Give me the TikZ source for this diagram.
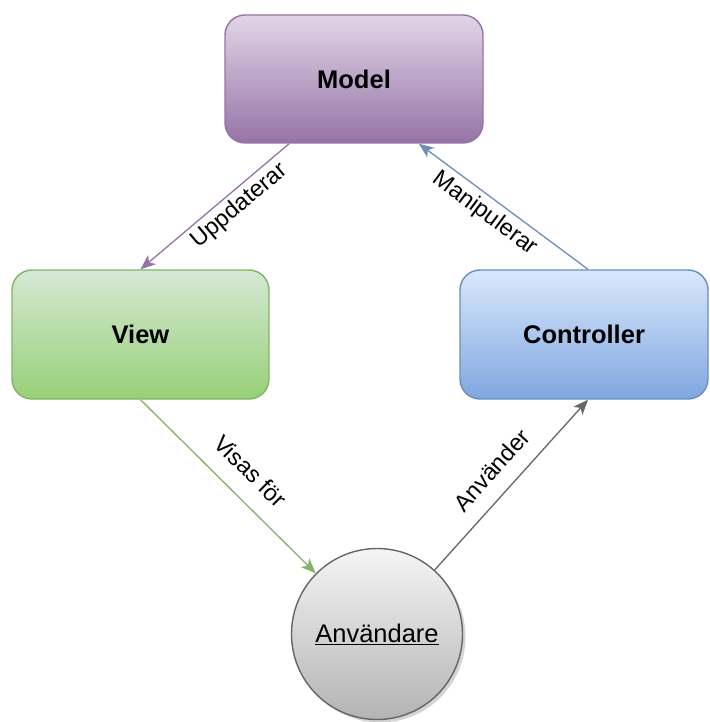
\documentclass[tikz,border=0pt]{standalone}
\usepackage{fontspec}
\setmainfont{Liberation Sans}
\usetikzlibrary{arrows.meta,shadows,calc}
\definecolor{mtop}{HTML}{E1D5E7}
\definecolor{mbot}{HTML}{9673A6}
\definecolor{mline}{HTML}{9673A6}
\definecolor{vtop}{HTML}{D5E8D4}
\definecolor{vbot}{HTML}{97D077}
\definecolor{vline}{HTML}{82B366}
\definecolor{ctop}{HTML}{DAE8FC}
\definecolor{cbot}{HTML}{7EA6E0}
\definecolor{cline}{HTML}{6C8EBF}
\definecolor{utop}{HTML}{F5F5F5}
\definecolor{ubot}{HTML}{B3B3B3}
\definecolor{uline}{HTML}{666666}
\begin{document}
\begin{tikzpicture}[x=1pt,y=-1pt,
  box/.style={draw, line width=1.4pt, rounded corners=20pt, inner sep=0pt,
    font=\fontsize{25.5}{30}\selectfont\bfseries},
  conn/.style={line width=1.3pt, -{Stealth[length=15pt,width=12pt,inset=4pt]}},
  elabel/.style={font=\fontsize{23.5}{28}\selectfont, sloped, inner sep=0pt}]
\useasboundingbox (0,0) rectangle (709,722);

\node[box, minimum width=258pt, minimum height=128pt, draw=mline, top color=mtop, bottom color=mbot]
  (model) at (354,79) {Model};
\node[box, minimum width=257pt, minimum height=129pt, draw=vline, top color=vtop, bottom color=vbot]
  (view) at (140.5,334.5) {View};
\node[box, minimum width=248pt, minimum height=129pt, draw=cline, top color=ctop, bottom color=cbot]
  (ctrl) at (584,334.5) {Controller};
\node[circle, draw=uline, line width=1.4pt, minimum size=171pt, inner sep=0pt,
  top color=utop, bottom color=ubot,
  drop shadow={shadow xshift=3pt, shadow yshift=-3pt, opacity=0.35, fill=gray},
  font=\fontsize{25.5}{30}\selectfont]
  (user) at (377,634) {\underline{Användare}};

\coordinate (mL) at ($(model.south west)!0.25!(model.south east)$);
\coordinate (mR) at ($(model.south west)!0.75!(model.south east)$);
\coordinate (cT) at ($(ctrl.north)+(4,0)$);
\coordinate (cB) at ($(ctrl.south)+(4,0)$);

\draw[conn, draw=mline, fill=mline] (mL) -- (view.north)
  node[elabel, pos=0.40, anchor=north, outer sep=4.6pt] (l1) {Uppdaterar};
\draw[conn, draw=cline, fill=cline] (cT) -- (mR)
  node[elabel, pos=0.55, anchor=north, outer sep=5.8pt] (l2) {Manipulerar};
\draw[conn, draw=vline, fill=vline] (view.south) -- (user)
  node[elabel, pos=0.52, anchor=south, outer sep=18pt] (l3) {Visas för};
\draw[conn, draw=uline, fill=uline] (user) -- (cB)
  node[elabel, pos=0.49, anchor=south, outer sep=16pt] (l4) {Använder};
\end{tikzpicture}
\end{document}
